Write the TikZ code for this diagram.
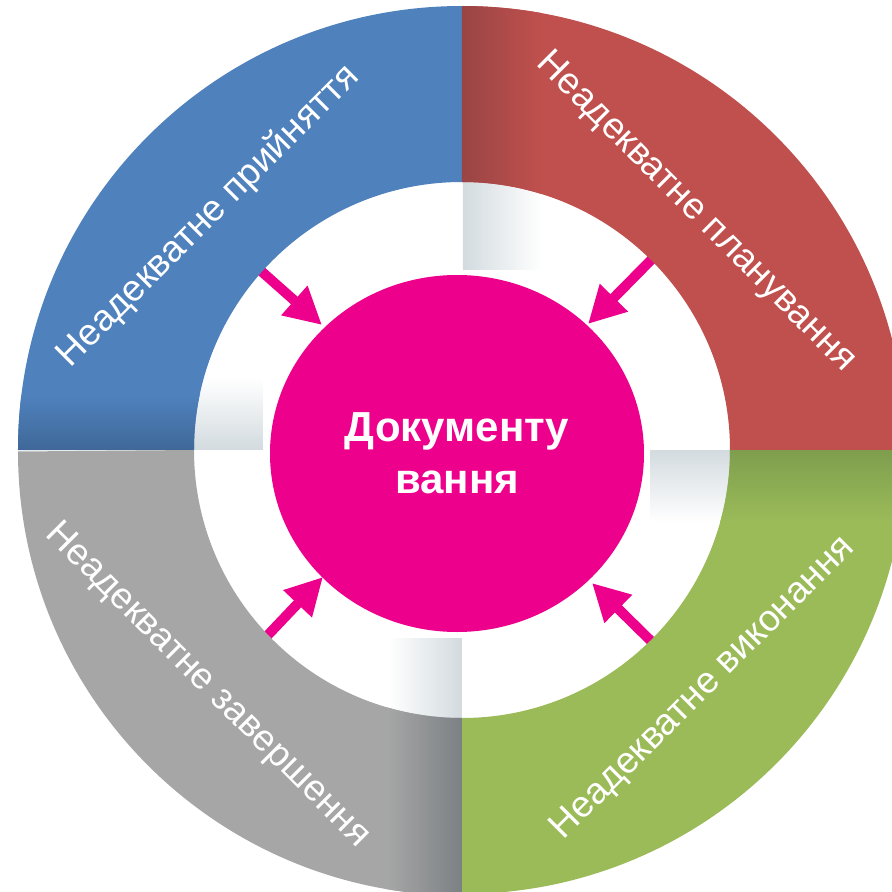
\documentclass[tikz,border=0pt]{standalone}
\usepackage{fontspec}
\setmainfont{Liberation Sans}
\usetikzlibrary{arrows.meta,shapes.geometric}
\definecolor{cpink}{HTML}{EC008C}
\definecolor{cblue}{HTML}{4F81BD}
\definecolor{cblueD}{HTML}{3F6898}
\definecolor{cred}{HTML}{C0504D}
\definecolor{credD}{HTML}{9A4545}
\definecolor{cgray}{HTML}{A6A6A6}
\definecolor{cgrayD}{HTML}{7C8184}
\definecolor{cgreen}{HTML}{9BBB59}
\definecolor{cgreenD}{HTML}{7E9E4E}
\definecolor{cshad}{HTML}{D3DBDF}
\begin{document}
\begin{tikzpicture}[x=1pt,y=1pt,
  lbl/.style={text=white,font=\fontsize{37}{44}\selectfont,inner sep=0pt},
  arr/.style={draw=cpink,line width=10pt,-{Triangle[length=37pt,width=37pt]}},
  center/.style={ellipse,fill=cpink,minimum width=374pt,minimum height=357pt,inner sep=0pt,
     text=white,align=center,font=\bfseries\fontsize{42}{52}\selectfont}]
\useasboundingbox (-462,-442) rectangle (430,450);
\clip (-462,-442) rectangle (430,450);
\fill[white] (-462,-442) rectangle (430,450);
% soft shadows inside the white band
\begin{scope}
  \clip (0,0) circle (268);
  \shade[left color=cshad,right color=white] (1,181) rectangle (80,270);
  \shade[top color=white,bottom color=cshad] (-270,1) rectangle (-199,72);
  \shade[left color=white,right color=cshad] (-74,-270) rectangle (0,-188);
  \shade[top color=cshad,bottom color=white] (188,-72) rectangle (270,0);
\end{scope}
% centre
\node[center] (doc) at (-5,-3.5) {Документу\\вання};
% arrows
\coordinate (s1) at (-214.8,191.3); \coordinate (e1) at (-140,125);
\coordinate (s2) at (199.7,200.8);  \coordinate (e2) at (126,126);
\coordinate (s3) at (-207.8,-199.5); \coordinate (e3) at (-139,-127);
\coordinate (s4) at (202.6,-204.4); \coordinate (e4) at (130,-133);
\draw[arr] (s1) -- (e1);
\draw[arr] (s2) -- (e2);
\draw[arr] (s3) -- (e3);
\draw[arr] (s4) -- (e4);
% ring: blue
\begin{scope}
  \clip (-444,0) arc[start angle=180,end angle=90,radius=444] -- (0,268)
        arc[start angle=90,end angle=180,radius=268] -- cycle;
  \fill[cblue] (-444,0) rectangle (0,444);
  \shade[top color=cblue,bottom color=cblueD] (-444,0) rectangle (0,55);
\end{scope}
% red
\begin{scope}
  \clip (0,444) arc[start angle=90,end angle=0,radius=444] -- (268,0)
        arc[start angle=0,end angle=90,radius=268] -- cycle;
  \fill[cred] (0,0) rectangle (444,444);
  \shade[left color=credD,right color=cred] (0,0) rectangle (80,444);
\end{scope}
% gray
\begin{scope}
  \clip (-444,-1.5) arc[start angle=180,end angle=270,radius=444] -- (0,-268)
        arc[start angle=270,end angle=180,radius=268] -- cycle;
  \fill[cgray] (-444,-444) rectangle (0,0);
  \shade[left color=cgray,right color=cgrayD] (-75,-444) rectangle (0,0);
\end{scope}
% green
\begin{scope}
  \clip (0,-444) arc[start angle=270,end angle=360,radius=444] -- (268,0)
        arc[start angle=360,end angle=270,radius=268] -- cycle;
  \fill[cgreen] (0,-444) rectangle (444,0);
  \shade[top color=cgreenD,bottom color=cgreen] (0,-72) rectangle (444,0);
\end{scope}
% labels
\node[lbl,rotate=45]  (l1) at (-253.5,233.5) {Неадекватне прийняття};
\node[lbl,rotate=-45] (l2) at (234,237.5)    {Неадекватне планування};
\node[lbl,rotate=-45] (l3) at (-254.5,-235.5) {Неадекватне завершення};
\node[lbl,rotate=45]  (l4) at (241.5,-238.5) {Неадекватне виконання};
\end{tikzpicture}
\end{document}
